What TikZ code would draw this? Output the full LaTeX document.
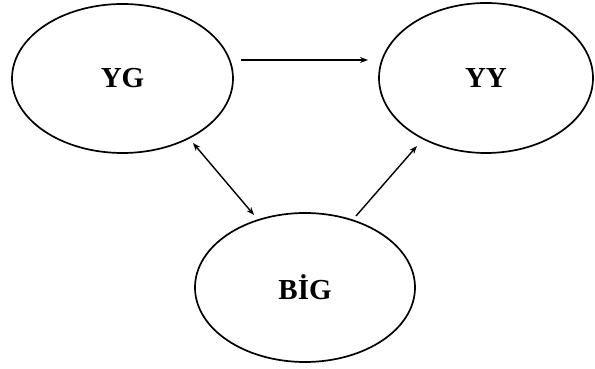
\documentclass[tikz,border=0pt]{standalone}
\usepackage{fontspec}
\setmainfont{Liberation Serif}
\usetikzlibrary{shapes.geometric,arrows.meta}
\begin{document}
\begin{tikzpicture}[x=1pt,y=1pt,
  var/.style={ellipse,draw=black,line width=1.7pt,inner sep=0pt,
    font=\fontsize{29}{32}\selectfont\bfseries},
  link/.style={line width=1.4pt,-{Stealth[length=8pt,width=6pt]}},
  dlink/.style={line width=1.4pt,{Stealth[length=8pt,width=6pt]}-{Stealth[length=8pt,width=6pt]}}]
  \useasboundingbox (0,0) rectangle (595,369);
  % three variables
  \node[var,minimum width=221pt,minimum height=149pt] (YG) at (122.5,290.5) {YG};
  \node[var,minimum width=214pt,minimum height=150pt] (YY) at (486,291) {YY};
  \node[var,minimum width=220pt,minimum height=149pt] (BIG) at (305,81.5) {BİG};
  % relations
  \draw[link] ([shift={(118.5,18.5)}]YG.center) -- ([shift={(-118,18)}]YY.center);
  \draw[dlink] ([shift={(70.5,-64.5)}]YG.center) -- ([shift={(-51,72.5)}]BIG.center);
  \draw[link] ([shift={(51,71.5)}]BIG.center) -- ([shift={(-69,-68)}]YY.center);
\end{tikzpicture}
\end{document}
